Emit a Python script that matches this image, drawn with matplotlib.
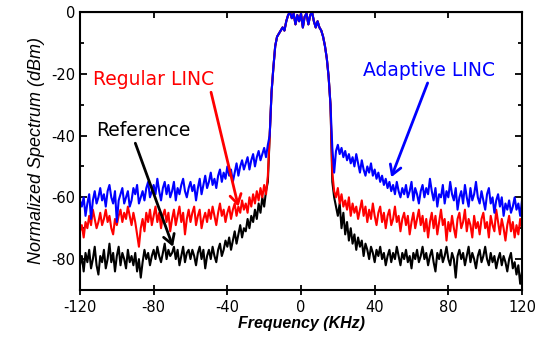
import matplotlib
matplotlib.use("Agg")
import matplotlib.pyplot as plt
import numpy as np

# frequency grid in KHz (1 KHz steps, -120..120)
freq = np.arange(-120, 121, 1)

# main lobe shared by all three traces, -17..16 KHz
lobe = [-40, -26, -18, -11, -8, -7, -6, -5, -6, -3,
        -1, 0, -2, -0.5, -4, -1, -3, -0.5, -5, -1.5,
        -0.5, -4, -1, 0, -3, -5, -3, -5, -6, -8,
        -11, -15, -21, -30]

# adaptive LINC, -120..-18 and 17..120
adaptive_left = [-61, -63, -60, -66, -62, -59, -67, -61, -58, -62,
                 -60, -57, -61, -59, -63, -58, -56, -60, -62, -58,
                 -68, -61, -59, -57, -62, -60, -58, -63, -61, -57,
                 -59, -56, -62, -60, -58, -61, -57, -55, -60, -58,
                 -56, -59, -54, -58, -61, -57, -55, -59, -56, -60,
                 -58, -55, -61, -57, -59, -56, -54, -58, -60, -57,
                 -55, -58, -56, -61, -57, -54, -59, -56, -53, -57,
                 -55, -52, -56, -54, -57, -53, -51, -55, -52, -54,
                 -50, -53, -51, -55, -52, -49, -53, -50, -48, -51,
                 -49, -47, -51, -48, -46, -50, -47, -45, -48, -46,
                 -44, -47, -43]
adaptive_right = [-44, -52, -45, -43, -46, -44, -47, -45, -48, -46,
                  -49, -47, -50, -46, -49, -52, -48, -51, -53, -50,
                  -52, -49, -53, -51, -54, -52, -55, -53, -56, -54,
                  -57, -55, -58, -56, -59, -55, -58, -60, -57, -59,
                  -56, -60, -58, -55, -61, -57, -59, -62, -58, -56,
                  -60, -57, -59, -54, -58, -61, -57, -63, -59, -60,
                  -56, -62, -58, -60, -55, -59, -61, -57, -64, -60,
                  -58, -62, -56, -60, -63, -57, -61, -59, -55, -60,
                  -62, -58, -61, -64, -59, -57, -62, -60, -65, -61,
                  -59, -63, -60, -66, -62, -64, -61, -65, -63, -60,
                  -64, -62, -66, -61]

# regular LINC
regular_left = [-71, -69, -73, -68, -70, -66, -69, -64, -67, -70,
                -68, -65, -69, -67, -64, -68, -66, -70, -72, -67,
                -69, -66, -64, -68, -65, -67, -63, -66, -69, -65,
                -68, -72, -76, -70, -67, -71, -65, -68, -64, -69,
                -66, -63, -68, -65, -70, -66, -64, -68, -65, -71,
                -67, -64, -69, -66, -63, -68, -65, -72, -67, -64,
                -68, -65, -63, -69, -66, -64, -70, -67, -65, -68,
                -64, -67, -63, -66, -69, -65, -62, -66, -64, -68,
                -65, -63, -67, -64, -62, -66, -63, -65, -61, -64,
                -62, -65, -60, -63, -59, -62, -58, -61, -57, -60,
                -56, -59, -53]
regular_right = [-52, -58, -60, -57, -62, -59, -63, -61, -64, -60,
                 -66, -62, -65, -63, -67, -64, -61, -66, -63, -68,
                 -64, -67, -62, -66, -69, -65, -63, -68, -65, -70,
                 -66, -64, -69, -67, -63, -68, -66, -71, -67, -65,
                 -69, -66, -72, -68, -65, -70, -67, -64, -69, -66,
                 -71, -67, -73, -68, -65, -70, -66, -72, -68, -64,
                 -69, -67, -74, -68, -71, -66, -70, -73, -67, -65,
                 -70, -68, -64, -71, -67, -69, -73, -66, -70, -68,
                 -72, -67, -65, -70, -68, -73, -66, -69, -71, -64,
                 -68, -72, -67, -70, -74, -69, -66, -71, -68, -73,
                 -69, -72, -67, -70]

# reference
reference_left = [-82, -79, -84, -78, -81, -77, -83, -80, -76, -82,
                  -85, -79, -81, -77, -83, -80, -75, -81, -78, -84,
                  -79, -76, -82, -78, -80, -83, -77, -81, -79, -82,
                  -78, -84, -80, -86, -81, -77, -80, -78, -82, -79,
                  -77, -80, -76, -79, -81, -78, -75, -80, -77, -79,
                  -78, -76, -80, -77, -82, -79, -76, -81, -78, -77,
                  -80, -77, -79, -82, -78, -76, -80, -77, -83, -79,
                  -77, -80, -76, -79, -81, -77, -75, -79, -77, -74,
                  -76, -73, -77, -74, -71, -75, -72, -69, -73, -70,
                  -71, -67, -70, -66, -68, -64, -67, -62, -65, -60,
                  -63, -58, -55]
reference_right = [-55, -60, -63, -66, -62, -70, -65, -72, -68, -74,
                   -70, -75, -72, -77, -73, -76, -74, -79, -75, -77,
                   -80, -76, -78, -81, -77, -79, -76, -80, -78, -82,
                   -79, -77, -81, -78, -80, -76, -79, -82, -78, -80,
                   -77, -81, -79, -83, -78, -80, -77, -81, -79, -76,
                   -80, -78, -82, -79, -77, -81, -84, -78, -80, -77,
                   -81, -79, -76, -80, -82, -78, -80, -86, -79, -77,
                   -80, -78, -82, -79, -76, -81, -78, -80, -83, -79,
                   -77, -81, -79, -76, -80, -82, -78, -81, -79, -83,
                   -80, -78, -82, -79, -81, -84, -80, -78, -83, -81,
                   -85, -82, -88, -84]

xticks = [-120, -80, -40, 0, 40, 80, 120]
yticks = [0, -20, -40, -60, -80]

reference = reference_left + lobe + reference_right
regular = regular_left + lobe + regular_right
adaptive = adaptive_left + lobe + adaptive_right

fig = plt.figure(figsize=(5.39, 3.41), dpi=100)
ax = fig.add_axes([0.1484, 0.1496, 0.8201, 0.8152])

ax.plot(freq, reference, color='black', lw=1.5)
ax.plot(freq, regular, color='red', lw=1.5)
ax.plot(freq, adaptive, color='blue', lw=1.5)

ax.set_xlim(-120, 120)
ax.set_ylim(-90, 0)
ax.set_xticks(xticks)
ax.set_yticks(yticks)
ax.set_yticks(np.arange(-90, 0, 20), minor=True)
ax.set_xticklabels([str(t) for t in xticks], fontsize=10.5)
ax.set_yticklabels([str(t) for t in yticks], fontsize=10.5)
ax.tick_params(axis='y', which='both', direction='in', right=True, width=1.3)
ax.tick_params(axis='y', which='major', length=5)
ax.tick_params(axis='y', which='minor', length=3)
ax.tick_params(axis='x', which='major', direction='inout', length=7, width=1.3)
for s in ax.spines.values():
    s.set_linewidth(1.5)

# inward ticks on the top edge
top = ax.secondary_xaxis('top')
top.set_xticks(xticks)
top.tick_params(direction='in', length=4, width=1.3, labeltop=False)

ax.set_xlabel('Frequency (KHz)', fontsize=11.5, fontweight='bold', style='italic',
              family='Liberation Sans', labelpad=1)
ax.set_ylabel('Normalized Spectrum (dBm)', fontsize=13, style='italic',
              family='Liberation Sans', labelpad=4)

# annotations
ax.annotate('Regular LINC', xy=(-34, -63), xytext=(-113, -22), color='red',
            fontsize=13.5, va='center', ha='left',
            arrowprops=dict(arrowstyle='->,head_length=0.5,head_width=0.3', color='red', lw=2,
                            shrinkA=0, shrinkB=0, relpos=(0.97, 0)))
ax.annotate('Reference', xy=(-69.5, -76), xytext=(-111, -38.5), color='black',
            fontsize=13.5, va='center', ha='left',
            arrowprops=dict(arrowstyle='->,head_length=0.5,head_width=0.3', color='black', lw=2,
                            shrinkA=0, shrinkB=0, relpos=(0.4, 0)))
ax.annotate('Adaptive LINC', xy=(49, -53.5), xytext=(33.5, -19), color='blue',
            fontsize=13.5, va='center', ha='left',
            arrowprops=dict(arrowstyle='->,head_length=0.5,head_width=0.3', color='blue', lw=2,
                            shrinkA=0, shrinkB=0, relpos=(0.5, 0)))

fig.savefig('out.png', dpi=100)
